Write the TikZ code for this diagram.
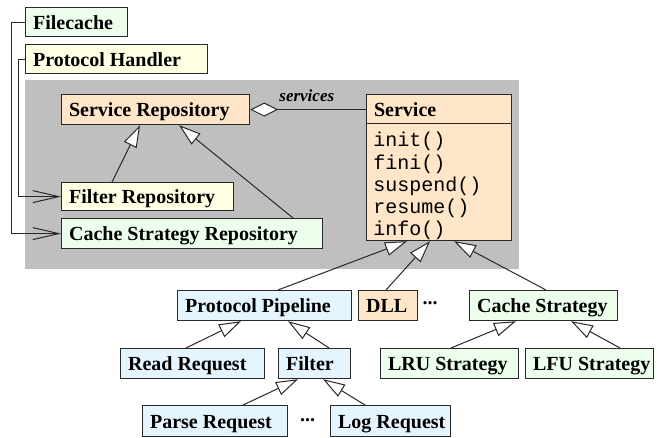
\documentclass[tikz,border=0pt]{standalone}
\usepackage{fontspec}
\setmainfont{Liberation Serif}
\setmonofont{Liberation Mono}
\usetikzlibrary{arrows.meta,calc}
\definecolor{cgreen}{RGB}{236,255,236}
\definecolor{cyellow}{RGB}{255,255,228}
\definecolor{corange}{RGB}{255,230,200}
\definecolor{cblue}{RGB}{228,245,255}
\definecolor{cgray}{RGB}{191,191,191}
\definecolor{cline}{RGB}{40,40,40}
\newcommand\boxtext[2]{\makebox[#1][l]{#2}}
\begin{document}
\begin{tikzpicture}[x=0.5pt,y=-0.5pt,
  box/.style={draw=cline, line width=0.6pt, rectangle, anchor=north west,
    inner xsep=3.75pt, inner ysep=0pt,
    font=\bfseries\fontsize{10}{12}\selectfont, text height=9pt, text depth=2pt},
  inh/.style={draw=cline, line width=0.5pt,
    -{Triangle[fill=white,length=11pt,width=7pt,line width=0.5pt]}},
  uses/.style={draw=cline, line width=0.5pt, -{Straight Barb[length=13pt,width=6pt,line width=0.5pt]}},
  agg/.style={draw=cline, line width=0.5pt,
    {Diamond[fill=white,length=14pt,width=7pt,line width=0.5pt]}-},
  dots/.style={anchor=base, inner sep=0pt, font=\bfseries\fontsize{10}{12}\selectfont}
]
\useasboundingbox (0,0) rectangle (658,438);

% gray region
\node[fill=cgray, anchor=north west, inner sep=0pt, minimum width=247pt, minimum height=94.5pt] (grp) at (25,80) {};

% top boxes
\node[box, fill=cgreen, minimum height=14.5pt] (fc) at (25,7) {\boxtext{43.5pt}{Filecache}};
\node[box, fill=cyellow, minimum height=14.5pt] (ph) at (25,44) {\boxtext{83.5pt}{Protocol Handler}};

\node[box, fill=corange, minimum height=15pt] (sr) at (61,94) {\boxtext{86.5pt}{Service Repository}};
\node[box, fill=cyellow, minimum height=14pt] (fr) at (61,182) {\boxtext{78.5pt}{Filter Repository}};
\node[box, fill=cgreen, minimum height=15pt] (csr) at (61,218) {\boxtext{123pt}{Cache Strategy Repository}};

% Service class
\node[box, fill=corange, minimum height=14.5pt] (sv) at (366,94) {\boxtext{65pt}{Service}};
\node[box, fill=corange, minimum height=58.5pt] (svb) at (366,123) {\boxtext{65pt}{}};
\node[anchor=north west, inner sep=0pt, align=left, font=\ttfamily\fontsize{10}{11.1}\selectfont] (meth) at (373,132)
  {init()\\fini()\\suspend()\\resume()\\info()};

\node[anchor=base west, inner sep=0pt, font=\bfseries\itshape\fontsize{8.5}{10}\selectfont] (svc) at (279,102) {services};

% row 1
\node[box, fill=cblue, minimum height=15pt] (pp) at (177,290) {\boxtext{79.5pt}{Protocol Pipeline}};
\node[box, fill=corange, minimum height=15pt] (dll) at (358,290) {\boxtext{22pt}{DLL}};
\node[dots] (d1) at (430,304.5) {...};
\node[box, fill=cgreen, minimum height=15pt] (cs) at (469,290) {\boxtext{66.5pt}{Cache Strategy}};

% row 2
\node[box, fill=cblue, minimum height=15pt] (rr) at (120,348) {\boxtext{64.5pt}{Read Request}};
\node[box, fill=cblue, minimum height=15pt] (fl) at (278,348) {\boxtext{28.5pt}{Filter}};
\node[box, fill=cgreen, minimum height=15pt] (lru) at (380,348) {\boxtext{61.5pt}{LRU Strategy}};
\node[box, fill=cgreen, minimum height=15pt] (lfu) at (525,348) {\boxtext{56.5pt}{LFU Strategy}};

% row 3
\node[box, fill=cblue, minimum height=15.5pt] (pr) at (142,405) {\boxtext{65pt}{Parse Request}};
\node[dots] (d2) at (307.5,421.5) {...};
\node[box, fill=cblue, minimum height=15.5pt] (lr) at (330,405) {\boxtext{52.5pt}{Log Request}};

% connectors
\draw[uses] (fc.west) -- ++(-14,0) |- (csr.west);
\draw[uses] (ph.west) -- ++(-7,0) |- (fr.west);
\draw[agg] (sr.east) -- (sr.east -| sv.west);

\draw[inh] ($(fr.north west)+(51,0)$) -- ($(sr.south west)+(79,0)$);
\draw[inh] ($(csr.north west)+(232,0)$) -- ($(sr.south west)+(118,0)$);

\draw[inh] ($(pp.north west)+(101,0)$) -- ($(svb.south west)+(41,0)$);
\draw[inh] ($(dll.north west)+(28,0)$) -- ($(svb.south west)+(64,0)$);
\draw[inh] ($(cs.north west)+(77,0)$) -- ($(svb.south west)+(88,0)$);

\draw[inh] ($(rr.north west)+(66,0)$) -- ($(pp.south west)+(64,0)$);
\draw[inh] ($(fl.north west)+(51,0)$) -- ($(pp.south west)+(111,0)$);
\draw[inh] ($(lru.north west)+(71,0)$) -- ($(cs.south west)+(47,0)$);
\draw[inh] ($(lfu.north west)+(95,0)$) -- ($(cs.south west)+(102,0)$);
\draw[inh] ($(pr.north west)+(101,0)$) -- ($(fl.south west)+(20,0)$);
\draw[inh] ($(lr.north west)+(35,0)$) -- ($(fl.south west)+(45,0)$);
\end{tikzpicture}
\end{document}
